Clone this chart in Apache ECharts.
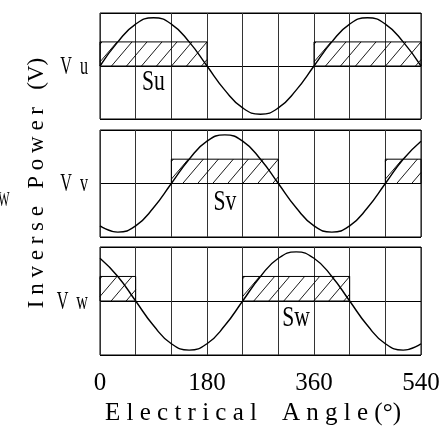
<!DOCTYPE html>
<html><head><meta charset="utf-8">
<script src="https://cdn.jsdelivr.net/npm/echarts@6/dist/echarts.min.js"></script>
<style>html,body{margin:0;padding:0;background:#fff}#c{width:446px;height:427px}</style>
</head><body><div id="c"></div>
<script>
// Electrical angle samples (degrees)
const angles = [0,30,60,90,120,150,180,210,240,270,300,330,360,390,420,450,480,510,540];
// Phase voltages (normalised)
const vu = [0,0.5,0.87,1,0.87,0.5,0,-0.5,-0.87,-1,-0.87,-0.5,0,0.5,0.87,1,0.87,0.5,0];
const vv = [-0.87,-1,-0.87,-0.5,0,0.5,0.87,1,0.87,0.5,0,-0.5,-0.87,-1,-0.87,-0.5,0,0.5,0.87];
const vw = [0.87,0.5,0,-0.5,-0.87,-1,-0.87,-0.5,0,0.5,0.87,1,0.87,0.5,0,-0.5,-0.87,-1,-0.87];
// Hatched switching intervals (start, end angle)
const su = [[0,180],[360,540]];
const sv = [[120,300],[480,540]];
const sw = [[0,60],[240,420]];
const hatchLevel = [0, 0.5];
const xTickLabels = [0,180,360,540];
const phaseNames = ['V  u','V  v','V  w'];
const stateNames = ['Su','Sv','Sw'];
const stateLabelAngle = [90,210,330];
const stateLabelLevel = [-0.33,-0.38,-0.35];
const xTitle = 'E l e c t r i c a l    A n g l e (°)';
const yTitle = 'I n v e r s e   P o w e r   (V)';
const strayText = 'W';

const SERIF = 'Liberation Serif';
const tops = [13,130,247];
const heights = [106,107,108];
const volts = [vu,vv,vw];
const states = [su,sv,sw];

function hatchItem(params, api){
  const p0 = api.coord([api.value(0), api.value(3)]);
  const p1 = api.coord([api.value(1), api.value(2)]);
  const x0=p0[0], y0=p0[1], x1=p1[0], y1=p1[1];
  const h = y1 - y0, dx = h*0.85, step = 15;
  const children = [{type:'rect', shape:{x:x0,y:y0,width:x1-x0,height:h},
    style:{fill:'none', stroke:'#000', lineWidth:1}}];
  for (let s = x0 - dx + 2; s < x1; s += step){
    const tmin = Math.max(0,(x0-s)/dx), tmax = Math.min(1,(x1-s)/dx);
    if (tmin < tmax){
      children.push({type:'line', shape:{x1:s+dx*tmin, y1:y1-h*tmin, x2:s+dx*tmax, y2:y1-h*tmax},
        style:{stroke:'#000', lineWidth:0.9}});
    }
  }
  return {type:'group', children};
}

const grid=[], xAxis=[], yAxis=[], series=[];
for (let k=0;k<3;k++){
  grid.push({left:100, width:321, top:tops[k], height:heights[k], show:true, borderColor:'#000', borderWidth:1});
  xAxis.push({gridIndex:k, type:'value', min:0, max:540, interval:60,
    axisLine:{show:false}, axisTick:{show:false},
    splitLine:{show:true, lineStyle:{color:'#333', width:1}},
    axisLabel:{show:k===2, margin:16, color:'#000', fontFamily:SERIF, fontSize:25,
      formatter:v=> xTickLabels.includes(v) ? String(v) : ''}});
  yAxis.push({gridIndex:k, type:'value', min:-1.1, max:1.1, interval:1.1,
    axisLine:{show:false}, axisTick:{show:false}, axisLabel:{show:false},
    splitLine:{show:true, lineStyle:{color:'#000', width:1}}});
  series.push({type:'custom', xAxisIndex:k, yAxisIndex:k, renderItem:hatchItem, silent:true,
    data: states[k].map(r=>[r[0],r[1],hatchLevel[0],hatchLevel[1]]), z:3});
  series.push({type:'line', xAxisIndex:k, yAxisIndex:k, smooth:true, symbol:'none', silent:true,
    lineStyle:{color:'#000', width:1.4}, data: angles.map((a,i)=>[a, volts[k][i]]), z:4});
  const kk = k;
  series.push({type:'custom', xAxisIndex:k, yAxisIndex:k, silent:true, z:5,
    data:[[stateLabelAngle[k], stateLabelLevel[k]]],
    renderItem:(params, api)=>{
      const p = api.coord([api.value(0), api.value(1)]);
      return {type:'text', x:p[0], y:p[1], scaleX:0.72,
        style:{text:stateNames[kk], fontFamily:SERIF, fontSize:30, fill:'#000', align:'center', verticalAlign:'middle'}};
    }});
  series.push({type:'custom', xAxisIndex:k, yAxisIndex:k, silent:true, z:5, clip:false,
    data:[[0,0]],
    renderItem:(params, api)=>{
      const p = api.coord([api.value(0), api.value(1)]);
      return {type:'text', x:p[0]-12, y:p[1]+1, scaleX:0.62,
        style:{text:phaseNames[kk], fontFamily:SERIF, fontSize:26, fill:'#000', align:'right', verticalAlign:'middle'}};
    }});
}

const chart = echarts.init(document.getElementById('c'), null, {renderer:'canvas'});
chart.setOption({
  animation:false,
  backgroundColor:'#fff',
  grid, xAxis, yAxis, series,
  graphic:[
    {type:'text', x:253, y:413, style:{text:xTitle, fontFamily:SERIF, fontSize:25, fill:'#000', align:'center', verticalAlign:'middle'}},
    {type:'text', x:37, y:183, rotation:Math.PI/2, style:{text:yTitle, fontFamily:SERIF, fontSize:23, fill:'#000', align:'center', verticalAlign:'middle'}},
    {type:'text', x:4, y:201, scaleX:0.6, style:{text:strayText, fontFamily:SERIF, fontSize:20, fill:'#000', align:'center', verticalAlign:'middle'}}
  ]
});
</script></body></html>
